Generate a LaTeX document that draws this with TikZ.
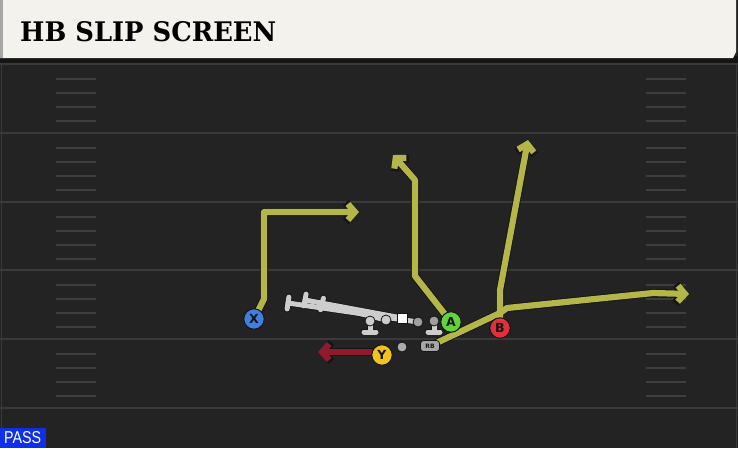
\documentclass[tikz,border=0pt]{standalone}
\usepackage{fontspec}
\usepackage{graphicx}
\usetikzlibrary{arrows.meta,calc}
\newfontfamily\headfont{DejaVu Serif}
\newfontfamily\letterfont{DejaVu Sans}
\newfontfamily\passfont{Liberation Sans}
\definecolor{bgc}{HTML}{232323}
\definecolor{yardc}{HTML}{3A3A3A}
\definecolor{hashc}{HTML}{3E3E3E}
\definecolor{headc}{HTML}{F4F2EC}
\definecolor{routec}{HTML}{B4B64A}
\definecolor{outlc}{HTML}{151515}
\definecolor{olc}{HTML}{CDCDCD}
\definecolor{redroute}{HTML}{8E1B2C}
\definecolor{xblue}{HTML}{3F7FE0}
\definecolor{agreen}{HTML}{63D33C}
\definecolor{bred}{HTML}{E0303C}
\definecolor{yyellow}{HTML}{F2C21E}
\definecolor{passblue}{HTML}{0F30E6}
\pgfdeclarelayer{field}
\pgfdeclarelayer{routes}
\pgfsetlayers{field,routes,main}
\tikzset{
  yard/.style={draw=yardc, line width=2.2pt},
  hashmark/.style={draw=hashc, line width=2pt},
  routeout/.style={draw=outlc, line width=8pt, line join=round, line cap=round},
  routein/.style={draw=routec, line width=6.2pt, line join=round, line cap=round},
  tipout/.style={-{Straight Barb[length=8pt,width=19pt]}},
  tipin/.style={-{Straight Barb[length=7pt,width=16pt]}},
  player/.style={circle, draw=outlc, line width=1pt, minimum size=20.5pt, inner sep=0pt, font=\letterfont\bfseries\fontsize{12.5}{12.5}\selectfont, text=outlc},
  rbbox/.style={rectangle, rounded corners=3pt, fill=gray!70, draw=outlc, line width=0.8pt, minimum width=19pt, minimum height=11pt, inner sep=0pt, font=\letterfont\bfseries\fontsize{6}{6}\selectfont, text=outlc},
  blockout/.style={draw=outlc, line width=6.5pt, line cap=round},
  blockin/.style={draw=olc, line width=5pt, line cap=round},
  lineman/.style={circle, fill=olc, draw=outlc, line width=0.8pt, minimum size=10pt, inner sep=0pt},
}
\begin{document}
\begin{tikzpicture}[x=1pt,y=-1pt]
\useasboundingbox (0,0) rectangle (738,448);
\begin{pgfonlayer}{field}
\fill[bgc] (0,0) rectangle (738,448);
\foreach \yy in {64,133,202,270,339,408} \draw[yard] (0,\yy) -- (738,\yy);
\foreach \yy in {64,133,202,270,339} {
  \foreach \k in {14.5,28.5,42.5,56.5} {
    \draw[hashmark] (56,\yy+\k) -- (96,\yy+\k);
    \draw[hashmark] (646,\yy+\k) -- (686,\yy+\k);
  }
}
\draw[yardc, line width=1pt] (1.5,62) -- (1.5,448);
\draw[yardc, line width=1pt] (736.5,62) -- (736.5,448);
% header
\fill[outlc] (0,56) rectangle (738,63);
\fill[headc] (0,0) -- (736,0) -- (736,52) -- (733,58) -- (0,58) -- cycle;
\fill[gray!70] (0,0) rectangle (3,58);
\end{pgfonlayer}
\node[anchor=south west, inner sep=0pt] (title) at (20,42)
  {\resizebox{256pt}{20pt}{\headfont\bfseries HB SLIP SCREEN}};
% PASS label
\fill[passblue] (0,428) rectangle (46,448);
\node[anchor=south west, inner sep=0pt, text=white] (pass) at (4,444)
  {\resizebox{37pt}{12pt}{\passfont PASS}};
% offensive line
\coordinate (lt) at (370,321);
\coordinate (lg) at (386,320);
\coordinate (c) at (402,318);
\coordinate (rg) at (418,322);
\coordinate (rt) at (434,321);
\coordinate (e1) at (288,303);
\coordinate (e2) at (305,300);
\coordinate (e3) at (322,304);
\foreach \s/\e in {rg/e1, c/e2, lg/e3} {
  \draw[blockout] (\s) -- (\e);
  \draw[blockout] ($(\e)!6.5pt!90:(\s)$) -- ($(\e)!6.5pt!-90:(\s)$);
}
\foreach \s/\e in {rg/e1, c/e2, lg/e3} {
  \draw[blockin] (\s) -- (\e);
  \draw[blockin] ($(\e)!6pt!90:(\s)$) -- ($(\e)!6pt!-90:(\s)$);
}
\foreach \p in {lt, rt} {
  \draw[blockout] (\p) -- ++(0,11);
  \draw[blockout] ($(\p)+(-6,11)$) -- ($(\p)+(6,11)$);
  \draw[blockin] (\p) -- ++(0,11);
  \draw[blockin] ($(\p)+(-6,11)$) -- ($(\p)+(6,11)$);
}
\node[lineman] (nlt) at (lt) {};
\node[lineman] (nlg) at (lg) {};
\node[lineman, fill=gray!75] (nrg) at (rg) {};
\node[lineman, fill=gray!75] (nrt) at (rt) {};
\node[rectangle, fill=white, draw=outlc, line width=0.8pt, minimum size=10pt, inner sep=0pt] (center) at (c) {};
\node[circle, fill=gray!65, draw=outlc, line width=0.8pt, minimum size=10pt, inner sep=0pt] (qb) at (402,347) {};
% players
\node[player, fill=xblue] (X) at (254,319) {X};
\node[player, fill=yyellow] (Y) at (382,355) {Y};
\node[player, fill=agreen] (A) at (451,322) {A};
\node[player, fill=bred] (B) at (500,328) {B};
\node[rbbox] (RB) at (430,346) {RB};
% route waypoints
\coordinate (x1) at (264,299);
\coordinate (x2) at (264,212);
\coordinate (x3) at (359,212);
\coordinate (a1) at (415,276);
\coordinate (a2) at (415,180);
\coordinate (a3) at (393,155);
\coordinate (b1) at (500,290);
\coordinate (b2) at (528,140);
\coordinate (r1) at (500,313);
\coordinate (r2) at (507,308);
\coordinate (r3) at (653,293);
\coordinate (r4) at (689,294);
\coordinate (y1) at (318,352);
\coordinate (y0) at ($(Y.center)+(-6,-3)$);
\begin{pgfonlayer}{routes}
\draw[routeout, tipout] (X.center) -- (x1) -- (x2) -- (x3);
\draw[routeout, tipout] (A.center) -- (a1) -- (a2) -- (a3);
\draw[routeout, tipout] (B.center) -- (b1) -- (b2);
\draw[routeout, tipout] (RB.center) -- (r1) -- (r2) -- (r3) -- (r4);
\draw[routein, tipin] (X.center) -- (x1) -- (x2) -- (x3);
\draw[routein, tipin] (A.center) -- (a1) -- (a2) -- (a3);
\draw[routein, tipin] (B.center) -- (b1) -- (b2);
\draw[routein, tipin] (RB.center) -- (r1) -- (r2) -- (r3) -- (r4);
\draw[draw=outlc, line width=8pt, tipout] (y0) -- (y1);
\draw[draw=redroute, line width=6.2pt, tipin] (y0) -- (y1);
\end{pgfonlayer}
\end{tikzpicture}
\end{document}
